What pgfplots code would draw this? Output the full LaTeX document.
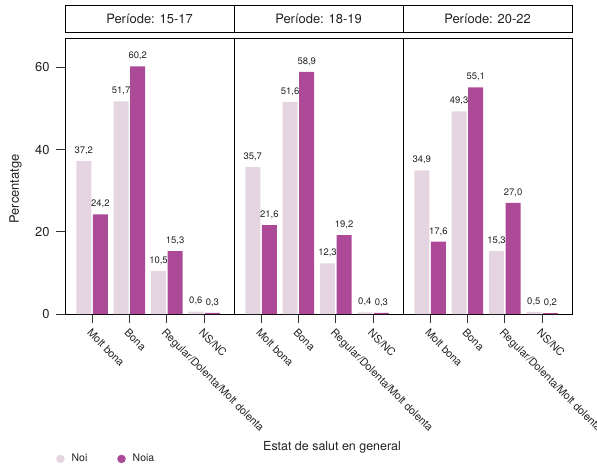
\documentclass[border=0pt]{standalone}
\usepackage{pgfplots}
\pgfplotsset{compat=1.18}
\usepackage{fontspec}
\setmainfont{TeX Gyre Heros}
\definecolor{noi}{HTML}{E5D5E1}
\definecolor{noia}{HTML}{AC4A97}
\definecolor{txt}{HTML}{222222}

\pgfplotsset{
 panel/.style={
  scale only axis, width=169bp, height=275.5bp,
  ymin=0, ymax=67, xmin=-0.725, xmax=3.8,
  axis line style={black, line width=0.8bp},
  tick align=outside, major tick length=9bp,
  tick style={black!80, line width=0.8bp},
  xtick={0,1,2,3}, xticklabels={Molt bona,Bona,Regular/Dolenta/Molt dolenta,NS/NC},
  xtick pos=bottom, ytick pos=left,
  xticklabel style={font=\fontsize{10.8}{12}\selectfont, rotate=-45, anchor=north west, text=txt},
  yticklabel style={font=\fontsize{13}{15}\selectfont, text=txt, xshift=-3bp},
  ybar, bar width=15bp,
  /pgf/number format/assume math mode=true,
  nodes near coords={\pgfmathprintnumber[fixed,fixed zerofill,precision=1,use comma]{\pgfplotspointmeta}},
  every node near coord/.append style={font=\fontsize{9.5}{10}\selectfont, text=txt, inner sep=0pt, anchor=south, yshift=6bp},
  title style={draw=black, line width=0.8bp, fill=white, minimum width=169bp, minimum height=26.6bp, inner sep=0pt, at={(0.5,1)}, anchor=south, yshift=0pt, font=\fontsize{13}{15}\selectfont, text=txt},
  clip=false,
 },
 noibar/.style={fill=noi, draw=none, bar shift=-8.3bp, forget plot},
 noiabar/.style={fill=noia, draw=none, bar shift=8.3bp, forget plot},
}

\begin{document}
\begin{tikzpicture}
\begin{axis}[panel, at={(0bp,0bp)}, title={Període: 15-17},
  ytick={0,20,40,60},
  ylabel={Percentatge},
  ylabel style={at={(axis description cs:-0.293,0.454)}, anchor=center, font=\fontsize{13}{15}\selectfont, text=txt},
  legend columns=2,
  legend style={draw=none, fill=none, inner sep=0pt, at={(-0.053,-0.526)}, anchor=west, font=\fontsize{10.5}{12}\selectfont, text=txt,
    /tikz/every odd column/.append style={column sep=5bp},
    /tikz/every even column/.append style={column sep=28bp}},
  legend cell align=left,
]
\addlegendimage{legend image code/.code={\fill[noi] (4bp,0bp) circle (4bp);}}
\addlegendentry{Noi}
\addlegendimage{legend image code/.code={\fill[noia] (4bp,0bp) circle (4bp);}}
\addlegendentry{Noia}
\addplot[noibar] coordinates {(0,37.2)(1,51.7)(2,10.5)(3,0.6)};
\addplot[noiabar] coordinates {(0,24.2)(1,60.2)(2,15.3)(3,0.3)};
\end{axis}
\begin{axis}[panel, at={(169bp,0bp)}, title={Període: 18-19}, ytick=\empty,
  xlabel={Estat de salut en general},
  xlabel style={at={(axis description cs:0.58,-0.483)}, anchor=center, font=\fontsize{12.5}{15}\selectfont, text=txt},
]
\addplot[noibar] coordinates {(0,35.7)(1,51.6)(2,12.3)(3,0.4)};
\addplot[noiabar] coordinates {(0,21.6)(1,58.9)(2,19.2)(3,0.3)};
\end{axis}
\begin{axis}[panel, at={(338bp,0bp)}, title={Període: 20-22}, ytick=\empty]
\addplot[noibar] coordinates {(0,34.9)(1,49.3)(2,15.3)(3,0.5)};
\addplot[noiabar] coordinates {(0,17.6)(1,55.1)(2,27.0)(3,0.2)};
\end{axis}
\pgfresetboundingbox
\useasboundingbox (-65bp,-150bp) rectangle (532bp,314bp);
\end{tikzpicture}
\end{document}
